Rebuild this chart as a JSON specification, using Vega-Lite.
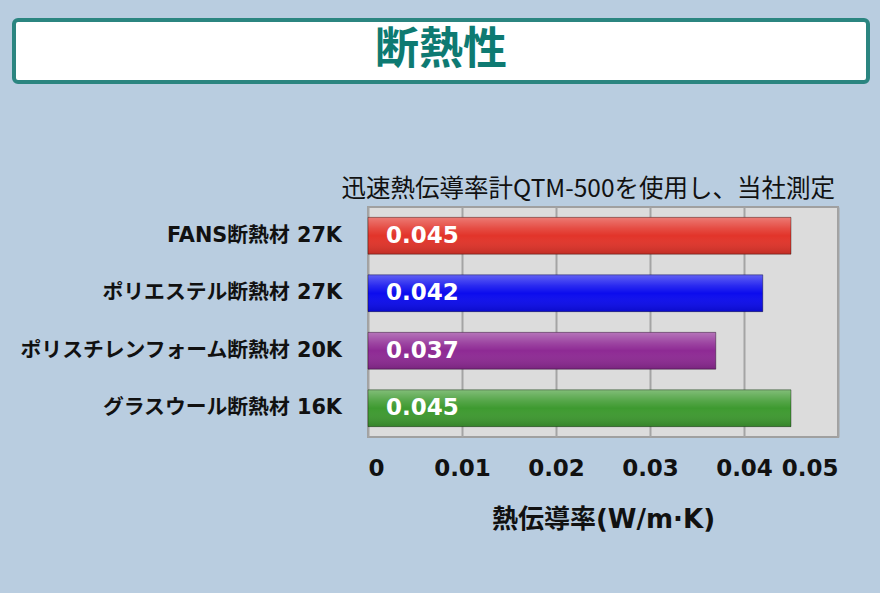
{
  "$schema": "https://vega.github.io/schema/vega-lite/v6.json",
  "background": "#b9cde0",
  "padding": {"left": 12, "top": 18, "right": 14, "bottom": 60},
  "spacing": 92,
  "config": {
    "font": "DejaVu Sans, Noto Sans CJK JP"
  },
  "vconcat": [
    {
      "width": 854,
      "height": 62,
      "view": {"fill": "white", "stroke": "#2b8580", "strokeWidth": 4, "cornerRadius": 4},
      "data": {"values": [{"t": "断熱性"}]},
      "mark": {"type": "text", "font": "Noto Sans CJK JP", "fontWeight": "bold", "fontSize": 44, "color": "#0e7a72", "baseline": "middle", "align": "center"},
      "encoding": {"text": {"field": "t"}}
    },
    {
      "spacing": 24,
      "title": {
        "text": "迅速熱伝導率計QTM-500を使用し、当社測定",
        "anchor": "end",
        "font": "Noto Sans CJK JP",
        "fontSize": 24.5,
        "fontWeight": "normal",
        "color": "#111111",
        "offset": 4,
        "dx": -4
      },
      "data": {
        "values": [
          {"label": "FANS断熱材 27K", "value": 0.045},
          {"label": "ポリエステル断熱材 27K", "value": 0.042},
          {"label": "ポリスチレンフォーム断熱材 20K", "value": 0.037},
          {"label": "グラスウール断熱材 16K", "value": 0.045}
        ]
      },
      "hconcat": [
        {
          "width": 328,
          "height": 230,
          "view": {"stroke": null, "fill": null},
          "mark": {"type": "text", "align": "right", "baseline": "middle", "font": "DejaVu Sans, Noto Sans CJK JP", "fontWeight": "bold", "fontSize": 20.8, "color": "#111111"},
          "encoding": {
            "y": {
              "field": "label",
              "type": "nominal",
              "sort": null,
              "scale": {"paddingInner": 0.36, "paddingOuter": 0.18},
              "axis": null
            },
            "x": {"datum": 1, "type": "quantitative", "scale": {"domain": [0, 1]}, "axis": null},
            "text": {"field": "label"}
          }
        },
        {
          "width": 470,
          "height": 230,
          "view": {"fill": "#dcdcdc", "stroke": "#a0a0a0", "strokeWidth": 2},
          "encoding": {
            "y": {
              "field": "label",
              "type": "nominal",
              "sort": null,
              "scale": {"paddingInner": 0.36, "paddingOuter": 0.18},
              "axis": null
            },
            "x": {
              "field": "value",
              "type": "quantitative",
              "scale": {"domain": [0, 0.05], "nice": false},
              "axis": {
                "values": [0, 0.01, 0.02, 0.03, 0.04, 0.05],
                "format": "~g",
                "title": "熱伝導率(W/m·K)",
                "titleFont": "DejaVu Sans, Noto Sans CJK JP",
                "titleFontSize": 26,
                "titleFontWeight": "bold",
                "titleColor": "#111111",
                "titlePadding": 26,
                "domain": false,
                "ticks": false,
                "labelPadding": 20,
                "labelFont": "DejaVu Sans",
                "labelFontWeight": "bold",
                "labelFontSize": 23,
                "labelColor": "#111111",
                "grid": true,
                "gridColor": "#a4a4a4",
                "gridWidth": 2,
                "gridOpacity": 1
              }
            }
          },
          "layer": [
            {
              "mark": {"type": "bar"},
              "encoding": {
                "color": {
                  "field": "label",
                  "type": "nominal",
                  "sort": null,
                  "scale": {"range": ["#e2342a", "#0c0cee", "#8e2a94", "#3e9a30"]},
                  "legend": null
                }
              }
            },
            {
              "mark": {
                "type": "bar",
                "stroke": "rgba(0,0,0,0.35)",
                "strokeWidth": 1,
                "color": {
                  "gradient": "linear",
                  "x1": 0, "y1": 0, "x2": 0, "y2": 1,
                  "stops": [
                    {"offset": 0, "color": "rgba(255,255,255,0.35)"},
                    {"offset": 0.3, "color": "rgba(255,255,255,0.12)"},
                    {"offset": 0.5, "color": "rgba(255,255,255,0)"},
                    {"offset": 1, "color": "rgba(0,0,0,0.15)"}
                  ]
                }
              }
            },
            {
              "mark": {"type": "text", "align": "left", "baseline": "middle", "dx": 18, "font": "DejaVu Sans", "fontWeight": "bold", "fontSize": 23, "color": "white"},
              "encoding": {
                "x": {"datum": 0, "type": "quantitative"},
                "text": {"field": "value", "type": "quantitative", "format": ".3f"}
              }
            }
          ]
        }
      ]
    }
  ]
}
